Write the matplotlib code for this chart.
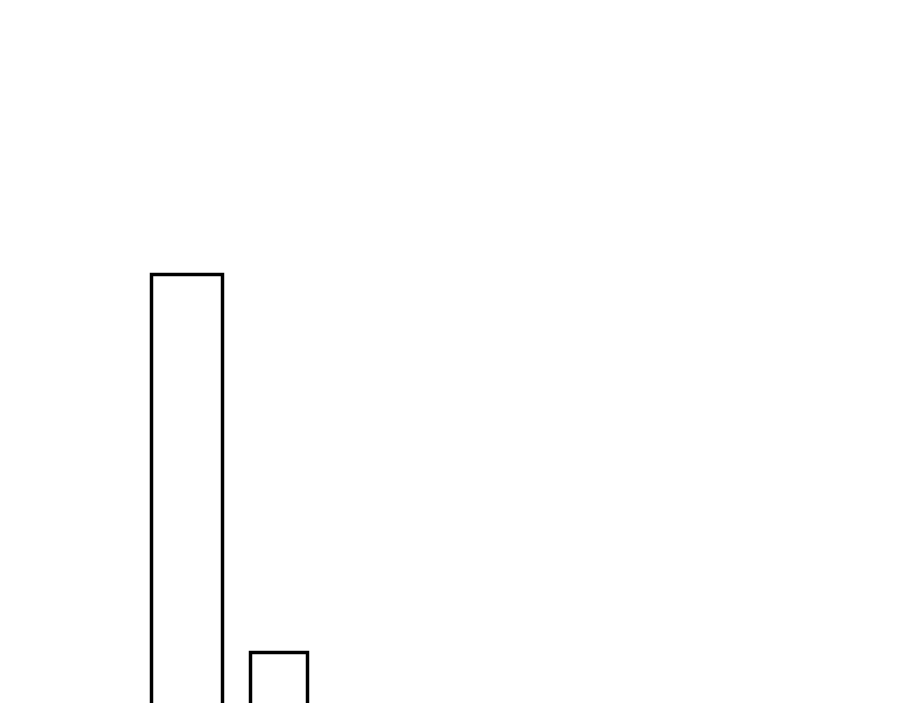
import matplotlib
matplotlib.use("Agg")
import matplotlib.pyplot as plt

# two outlined bars (units = pixels from the bottom edge)
bar_centers = [186.3, 278.3]
bar_widths = [71, 57]
bar_tops = [429, 51]
base = -20  # bars run past the bottom edge

fig = plt.figure(figsize=(9, 7.03), dpi=100)
ax = fig.add_axes([0, 0, 1, 1])
ax.bar(bar_centers, [t - base for t in bar_tops], width=bar_widths, bottom=base,
       facecolor="white", edgecolor="black", linewidth=2.5)

ax.set_xlim(0, 900)
ax.set_ylim(0, 703)
ax.axis("off")

fig.savefig("out.png", dpi=100, facecolor="white")
